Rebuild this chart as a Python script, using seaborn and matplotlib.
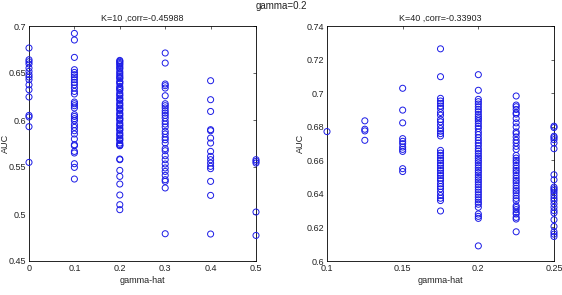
import numpy as np
import pandas as pd
import matplotlib
matplotlib.use("Agg")
import matplotlib.pyplot as plt
import seaborn as sns

# ---- left panel: K=10 ----
k10_x = [0.0, 0.1, 0.2, 0.3, 0.4, 0.5]
k10_auc = [
    [0.6766, 0.6641, 0.6620, 0.6596, 0.6553, 0.6517, 0.6482, 0.6457, 0.6429,
     0.6374, 0.6322, 0.6245, 0.6049, 0.6032, 0.5929, 0.5549],
    [0.6921, 0.6851, 0.6666, 0.6535, 0.6506, 0.6482, 0.6457, 0.6429, 0.6400,
     0.6374, 0.6340, 0.6304, 0.6277, 0.6191, 0.6173, 0.6152, 0.6128, 0.6056,
     0.6038, 0.6014, 0.5993, 0.5950, 0.5921, 0.5886, 0.5851, 0.5798, 0.5737,
     0.5726, 0.5666, 0.5649, 0.5535, 0.5496, 0.5372],
    [0.6634, 0.6625, 0.6613, 0.6600, 0.6588, 0.6570, 0.6555, 0.6543, 0.6517,
     0.6500, 0.6482, 0.6464, 0.6450, 0.6439, 0.6411, 0.6400, 0.6386, 0.6357,
     0.6340, 0.6330, 0.6315, 0.6287, 0.6270, 0.6258, 0.6234, 0.6220, 0.6209,
     0.6181, 0.6165, 0.6152, 0.6128, 0.6115, 0.6102, 0.6074, 0.6060, 0.6046,
     0.6021, 0.6010, 0.5996, 0.5968, 0.5950, 0.5939, 0.5915, 0.5900, 0.5890,
     0.5862, 0.5845, 0.5833, 0.5809, 0.5795, 0.5783, 0.5755, 0.5740, 0.5730,
     0.5726, 0.5585, 0.5578, 0.5464, 0.5400, 0.5319, 0.5202, 0.5099, 0.5046],
    [0.6713, 0.6606, 0.6383, 0.6365, 0.6340, 0.6258, 0.6173, 0.6152, 0.6128,
     0.6099, 0.6074, 0.6049, 0.6021, 0.5985, 0.5957, 0.5926, 0.5879, 0.5851,
     0.5815, 0.5790, 0.5755, 0.5695, 0.5673, 0.5620, 0.5578, 0.5532, 0.5490,
     0.5453, 0.5411, 0.5365, 0.5347, 0.5277, 0.4790],
    [0.6418, 0.6216, 0.6091, 0.5897, 0.5886, 0.5808, 0.5755, 0.5666, 0.5613,
     0.5578, 0.5542, 0.5507, 0.5482, 0.5347, 0.5198, 0.4787],
    [0.5578, 0.5560, 0.5542, 0.5021, 0.4772],
]

# ---- right panel: K=40 ----
k40_x = [0.1, 0.125, 0.15, 0.175, 0.2, 0.225, 0.25]
k40_auc = [
    [0.6771],
    [0.6835, 0.6785, 0.6775, 0.6719],
    [0.7029, 0.6899, 0.6823, 0.6729, 0.6713, 0.6699, 0.6679, 0.6665, 0.6653,
     0.6550, 0.6533],
    [0.7264, 0.7098, 0.6969, 0.6953, 0.6939, 0.6923, 0.6909, 0.6885, 0.6869,
     0.6843, 0.6829, 0.6809, 0.6789, 0.6773, 0.6759, 0.6745, 0.6659, 0.6643,
     0.6629, 0.6613, 0.6599, 0.6583, 0.6569, 0.6553, 0.6539, 0.6523, 0.6509,
     0.6493, 0.6479, 0.6460, 0.6444, 0.6430, 0.6410, 0.6390, 0.6374, 0.6360,
     0.6298],
    [0.7110, 0.7017, 0.6963, 0.6949, 0.6935, 0.6919, 0.6903, 0.6889, 0.6873,
     0.6859, 0.6847, 0.6835, 0.6819, 0.6803, 0.6789, 0.6769, 0.6753, 0.6735,
     0.6719, 0.6703, 0.6687, 0.6669, 0.6655, 0.6640, 0.6625, 0.6612, 0.6598,
     0.6585, 0.6570, 0.6555, 0.6540, 0.6527, 0.6512, 0.6498, 0.6484, 0.6470,
     0.6455, 0.6440, 0.6425, 0.6410, 0.6395, 0.6380, 0.6365, 0.6350, 0.6338,
     0.6320, 0.6280, 0.6266, 0.6254, 0.6090],
    [0.6983, 0.6929, 0.6919, 0.6903, 0.6883, 0.6875, 0.6849, 0.6823, 0.6799,
     0.6769, 0.6759, 0.6739, 0.6719, 0.6703, 0.6683, 0.6665, 0.6629, 0.6613,
     0.6599, 0.6586, 0.6569, 0.6553, 0.6539, 0.6526, 0.6509, 0.6493, 0.6479,
     0.6466, 0.6449, 0.6433, 0.6419, 0.6406, 0.6389, 0.6373, 0.6359, 0.6329,
     0.6319, 0.6306, 0.6290, 0.6280, 0.6260, 0.6250, 0.6174],
    [0.6803, 0.6795, 0.6743, 0.6735, 0.6723, 0.6703, 0.6669, 0.6514, 0.6484,
     0.6440, 0.6430, 0.6420, 0.6406, 0.6390, 0.6374, 0.6360, 0.6340, 0.6320,
     0.6300, 0.6286, 0.6246, 0.6206, 0.6174, 0.6160, 0.6146],
]

titles = ["K=10 ,corr=-0.45988", "K=40 ,corr=-0.33903"]
suptitle = "gamma=0.2"
x_label = "gamma-hat"
y_label = "AUC"

k10_xticks = [0, 0.1, 0.2, 0.3, 0.4, 0.5]
k10_xticklabels = ["0", "0.1", "0.2", "0.3", "0.4", "0.5"]
k10_yticks = [0.45, 0.5, 0.55, 0.6, 0.65, 0.7]
k10_yticklabels = ["0.45", "0.5", "0.55", "0.6", "0.65", "0.7"]
k40_xticks = [0.1, 0.15, 0.2, 0.25]
k40_xticklabels = ["0.1", "0.15", "0.2", "0.25"]
k40_yticks = [0.6, 0.62, 0.64, 0.66, 0.68, 0.7, 0.72, 0.74]
k40_yticklabels = ["0.6", "0.62", "0.64", "0.66", "0.68", "0.7", "0.72", "0.74"]


def to_frame(xs, cols):
    rows = [(x, v) for x, col in zip(xs, cols) for v in col]
    return pd.DataFrame(rows, columns=["gamma_hat", "auc"])


sns.set_style("white")
plt.rcParams["font.family"] = ["Liberation Sans", "DejaVu Sans"]
plt.rcParams["font.size"] = 6.5

fig = plt.figure(figsize=(5.62, 2.95), dpi=100)
ax1 = fig.add_axes([29 / 562, 1 - 261 / 295, 227 / 562, 235 / 295])
ax2 = fig.add_axes([327 / 562, 1 - 261 / 295, 227 / 562, 235 / 295])

panels = [
    (ax1, to_frame(k10_x, k10_auc), titles[0], (0, 0.5), (0.45, 0.7),
     k10_xticks, k10_xticklabels, k10_yticks, k10_yticklabels),
    (ax2, to_frame(k40_x, k40_auc), titles[1], (0.1, 0.25), (0.6, 0.74),
     k40_xticks, k40_xticklabels, k40_yticks, k40_yticklabels),
]

for ax, df, title, xl, yl, xt, xtl, yt, ytl in panels:
    sns.scatterplot(data=df, x="gamma_hat", y="auc", ax=ax, marker="o",
                    s=19, facecolor="none", edgecolor="#1a1ae6",
                    linewidth=0.7, clip_on=False, zorder=3)
    ax.set_xlim(*xl)
    ax.set_ylim(*yl)
    ax.set_xticks(xt)
    ax.set_xticklabels(xtl)
    ax.set_yticks(yt)
    ax.set_yticklabels(ytl)
    ax.set_title(title, fontsize=6.5, pad=4, color="#222222")
    ax.set_xlabel(x_label, fontsize=6.5, labelpad=2, color="#222222")
    ax.set_ylabel(y_label, fontsize=6.5, labelpad=1, color="#222222")
    ax.tick_params(direction="in", length=2.5, width=0.5, top=True,
                   right=True, labelsize=6.5, pad=2, colors="#222222")
    for sp in ax.spines.values():
        sp.set_visible(True)
        sp.set_linewidth(0.6)
        sp.set_color("black")

ax1.yaxis.set_label_coords(-0.085, 0.5)
ax2.yaxis.set_label_coords(-0.098, 0.5)

fig.text(0.5, 0.998, suptitle, ha="center", va="top", fontsize=7,
         color="#222222")

fig.savefig("out.png", dpi=100, facecolor="white")
